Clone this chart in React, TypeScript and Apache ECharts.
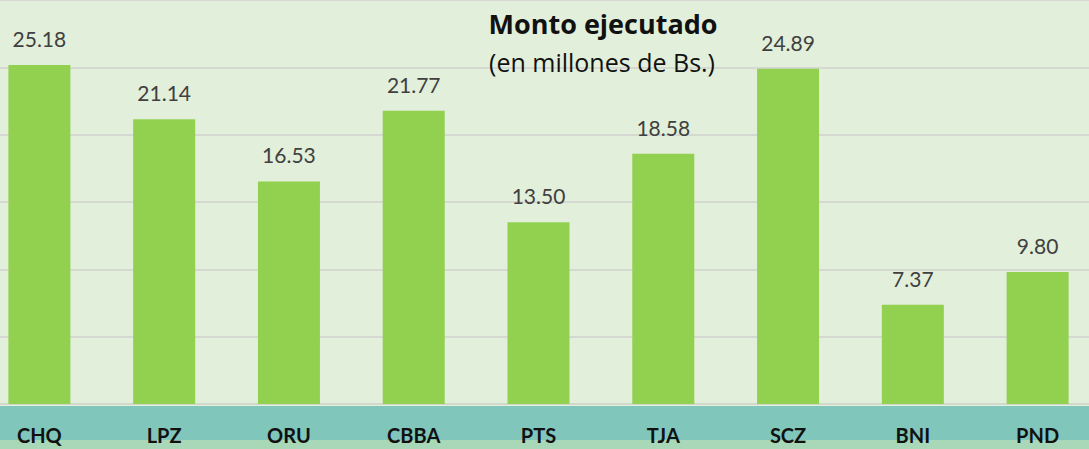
import React, { useEffect, useRef } from "react";
import * as echarts from "echarts";

const categories = ["CHQ", "LPZ", "ORU", "CBBA", "PTS", "TJA", "SCZ", "BNI", "PND"];
const values = [25.18, 21.14, 16.53, 21.77, 13.5, 18.58, 24.89, 7.37, 9.8];
const titleText = "Monto ejecutado";
const subtitleText = "(en millones de Bs.)";

const OFFSET = 23;
const W = 1123;
const H = 449;

export default function App() {
  const ref = useRef<HTMLDivElement>(null);
  useEffect(() => {
    if (!ref.current) return;
    const chart = echarts.init(ref.current, null, { renderer: "svg" });
    chart.setOption({
      animation: false,
      backgroundColor: "#e2efda",
      grid: { left: 0, right: 0, top: -1, bottom: 45, containLabel: false },
      xAxis: {
        type: "category",
        data: categories,
        axisLine: { show: true, lineStyle: { color: "#d3d8cf", width: 2 } },
        axisTick: { show: false },
        axisLabel: {
          margin: 21,
          color: "#111111",
          fontFamily: "Lato",
          fontWeight: "bold",
          fontSize: 20,
        },
      },
      yAxis: {
        type: "value",
        min: 0,
        max: 30,
        interval: 5,
        axisLabel: { show: false },
        axisLine: { show: false },
        axisTick: { show: false },
        splitLine: { lineStyle: { color: "#d5d9d2", width: 2 } },
      },
      series: [
        {
          type: "bar",
          data: values,
          barWidth: 62,
          itemStyle: { color: "#92d050" },
          label: {
            show: true,
            position: "top",
            distance: 16,
            color: "#404040",
            fontFamily: "Lato",
            fontSize: 21,
            formatter: (p: any) => Number(p.value).toFixed(2),
          },
        },
      ],
      graphic: [
        {
          type: "rect",
          z: -10,
          shape: { x: 0, y: 406, width: W, height: 34 },
          style: { fill: "#80c6bb" },
          silent: true,
        },
        {
          type: "rect",
          z: -10,
          shape: { x: 0, y: 440, width: W, height: 9 },
          style: { fill: "#a8d8b8" },
          silent: true,
        },
        {
          type: "text",
          z: 10,
          x: 603 + OFFSET,
          y: 23,
          style: {
            text: titleText,
            align: "center",
            verticalAlign: "middle",
            fill: "#111111",
            fontFamily: "Open Sans",
            fontWeight: "bold",
            fontSize: 27,
          },
        },
        {
          type: "text",
          z: 10,
          x: 602 + OFFSET,
          y: 62,
          style: {
            text: subtitleText,
            align: "center",
            verticalAlign: "middle",
            fill: "#111111",
            fontFamily: "Open Sans",
            fontSize: 25,
          },
        },
      ],
    });
    return () => chart.dispose();
  }, []);
  return (
    <div
      style={{
        position: "fixed",
        left: 0,
        top: 0,
        width: 1089,
        height: H,
        overflow: "hidden",
        background: "#e2efda",
      }}
    >
      <div
        ref={ref}
        style={{ position: "absolute", left: -OFFSET, top: 0, width: W, height: H }}
      />
    </div>
  );
}
